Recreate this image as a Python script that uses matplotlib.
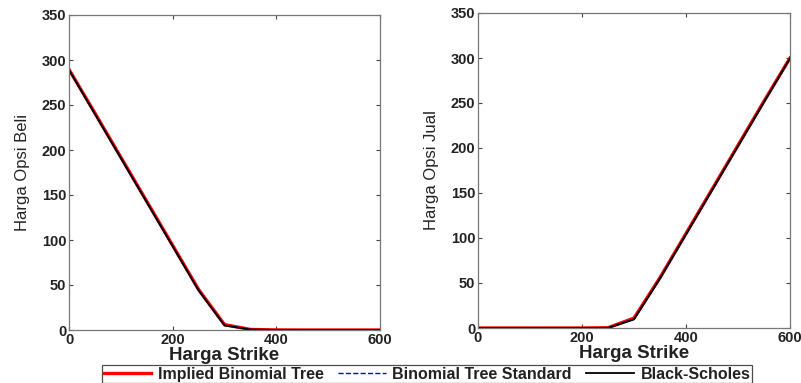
import matplotlib
matplotlib.use("Agg")
import matplotlib.pyplot as plt
from matplotlib.lines import Line2D

plt.rcParams['font.family'] = ['Liberation Sans', 'DejaVu Sans']

strike = [0, 50, 100, 150, 200, 250, 300, 350, 400, 450, 500, 550, 600]

call_implied = [289.5, 241, 192, 143, 94, 45, 6, 0.6, 0.1, 0, 0, 0, 0]
call_standard = [289, 240, 191, 142, 93, 44, 5.5, 0.5, 0, 0, 0, 0, 0]
call_bs = [289, 240, 191, 142, 93, 44, 5, 0.5, 0, 0, 0, 0, 0]

put_implied = [0, 0, 0, 0, 0, 0.3, 11, 56, 105, 154, 203, 252, 300]
put_standard = [0, 0, 0, 0, 0, 0.2, 10, 55, 104, 153, 202, 251, 299.5]
put_bs = [0, 0, 0, 0, 0, 0.1, 9.5, 55, 104, 153, 202, 251, 299.5]

series_labels = ['Implied Binomial Tree', 'Binomial Tree Standard', 'Black-Scholes']
xticks = [0, 200, 400, 600]
yticks = [0, 50, 100, 150, 200, 250, 300, 350]

fig = plt.figure(figsize=(8.01, 3.83), dpi=100)
W, H = 801, 383
ax1 = fig.add_axes([69 / W, 1 - 330 / H, (380 - 69) / W, (330 - 15) / H])
ax2 = fig.add_axes([478 / W, 1 - 328 / H, (790 - 478) / W, (328 - 13) / H])

def draw(ax, a, b, c, ylabel):
    ax.plot(strike, a, color='red', lw=2.4)
    ax.plot(strike, b, color='blue', lw=1.0, ls='--')
    ax.plot(strike, c, color='black', lw=1.3)
    ax.set_xlim(0, 600)
    ax.set_ylim(0, 350)
    ax.set_xticks(xticks)
    ax.set_yticks(yticks)
    ax.tick_params(direction='in', top=True, right=True, labelsize=10.5,
                   length=3, pad=2, colors='#444444', labelcolor='#222222')
    for lab in ax.get_xticklabels() + ax.get_yticklabels():
        lab.set_fontweight('bold')
    for s in ax.spines.values():
        s.set_color('#777777')
        s.set_linewidth(0.9)
    ax.set_xlabel('Harga Strike', fontsize=13.5, fontweight='bold',
                  color='#222222', labelpad=0)
    ax.set_ylabel(ylabel, fontsize=12, color='#222222', labelpad=8)

draw(ax1, call_implied, call_standard, call_bs, 'Harga Opsi Beli')
draw(ax2, put_implied, put_standard, put_bs, 'Harga Opsi Jual')

handles = [Line2D([], [], color='red', lw=2.4),
           Line2D([], [], color='blue', lw=1.0, ls='--'),
           Line2D([], [], color='black', lw=1.3)]
leg = fig.legend(handles, series_labels, loc='upper center', ncol=3,
                 bbox_to_anchor=(427 / W, 1 - 365 / H),
                 prop={'size': 11.5, 'weight': 'bold'}, frameon=True,
                 fancybox=False, edgecolor='#222222', handlelength=3.0,
                 handletextpad=0.4, columnspacing=0.9, borderpad=0.1,
                 borderaxespad=0)
for t in leg.get_texts():
    t.set_color('#222222')
leg.get_frame().set_linewidth(0.9)

fig.savefig('out.png', dpi=100)
